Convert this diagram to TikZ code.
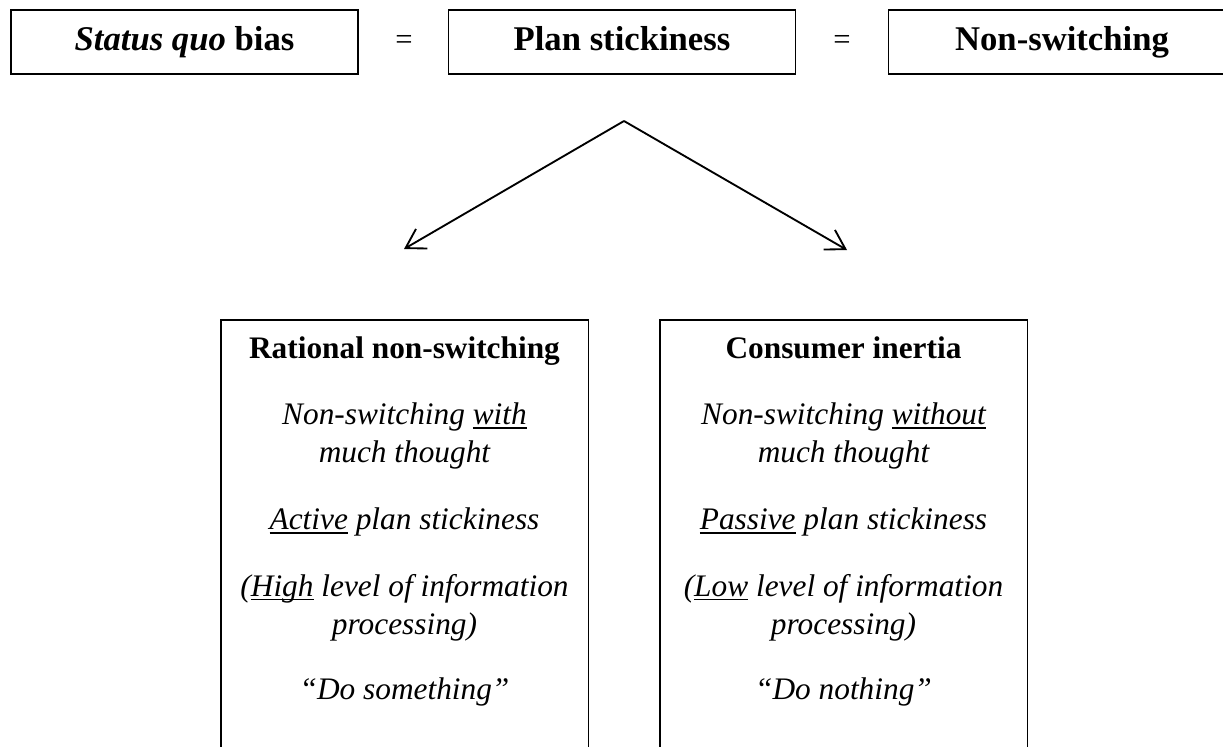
\documentclass[tikz,border=0pt]{standalone}
\usepackage{fontspec}
\setmainfont{Liberation Serif}
\usetikzlibrary{arrows.meta}
\tikzset{every picture/.style={line width=0.75pt}}
\newcommand{\bodyfont}{\fontsize{23.5}{28.5}\selectfont}
\newcommand{\undl}[1]{\setbox0\hbox{#1}\rlap{\rule[-3pt]{\wd0}{0.9pt}}\box0\relax}

\begin{document}
\begin{tikzpicture}[x=0.75pt,y=0.75pt,yscale=-1,xscale=1,
    topbox/.style={draw, line width=1.1pt, minimum width=260.5pt, minimum height=48pt, inner sep=0pt, text height=17pt, text depth=5pt, font=\fontsize{26}{30}\selectfont\bfseries},
    sidebox/.style={draw, line width=1pt, minimum width=275.5pt, minimum height=345pt, inner sep=0pt},
    eqsign/.style={inner sep=0pt, font=\fontsize{23}{26}\selectfont},
    boxtitle/.style={inner sep=0pt, text height=17pt, text depth=5pt, font=\bodyfont\bfseries},
    boxtext/.style={inner sep=0pt, align=center, font=\bodyfont\itshape},
    splitarrow/.style={line width=1.4pt, -{Straight Barb[length=14pt,width=17pt]}}]
\useasboundingbox (0,0) rectangle (1223,746);

% top row
\node [topbox] (bias) at (184.5,42) {{\itshape Status quo} bias};
\node [eqsign] (eqone) at (404,42) {=};
\node [topbox] (sticky) at (622,42) {Plan stickiness};
\node [eqsign] (eqtwo) at (842,42) {=};
\node [topbox] (nonsw) at (1062,42) {Non-switching};

% split
\coordinate (apex) at (624,121);
\coordinate (ltip) at (404,249);
\coordinate (rtip) at (847,250);
\draw [splitarrow] (apex) -- (ltip);
\draw [splitarrow] (apex) -- (rtip);

% left box
\node [sidebox] (rational) at (404.5,550) {};
\node [boxtitle] (rtitle) at (404.5,350) {Rational non-switching};
\node [boxtext] (rone) at (404.5,436) {Non-switching \undl{with}\\much thought};
\node [boxtext] (rtwo) at (404.5,522) {\undl{Active} plan stickiness};
\node [boxtext] (rthree) at (404.5,607.5) {(\undl{High} level of information\\processing)};
\node [boxtext] (rfour) at (404.5,692) {“Do something”};

% right box
\node [sidebox] (inertia) at (843.5,550) {};
\node [boxtitle] (ititle) at (843.5,350) {Consumer inertia};
\node [boxtext] (ione) at (843.5,436) {Non-switching \undl{without}\\much thought};
\node [boxtext] (itwo) at (843.5,522) {\undl{Passive} plan stickiness};
\node [boxtext] (ithree) at (843.5,607.5) {(\undl{Low} level of information\\processing)};
\node [boxtext] (ifour) at (843.5,692) {“Do nothing”};
\end{tikzpicture}
\end{document}
